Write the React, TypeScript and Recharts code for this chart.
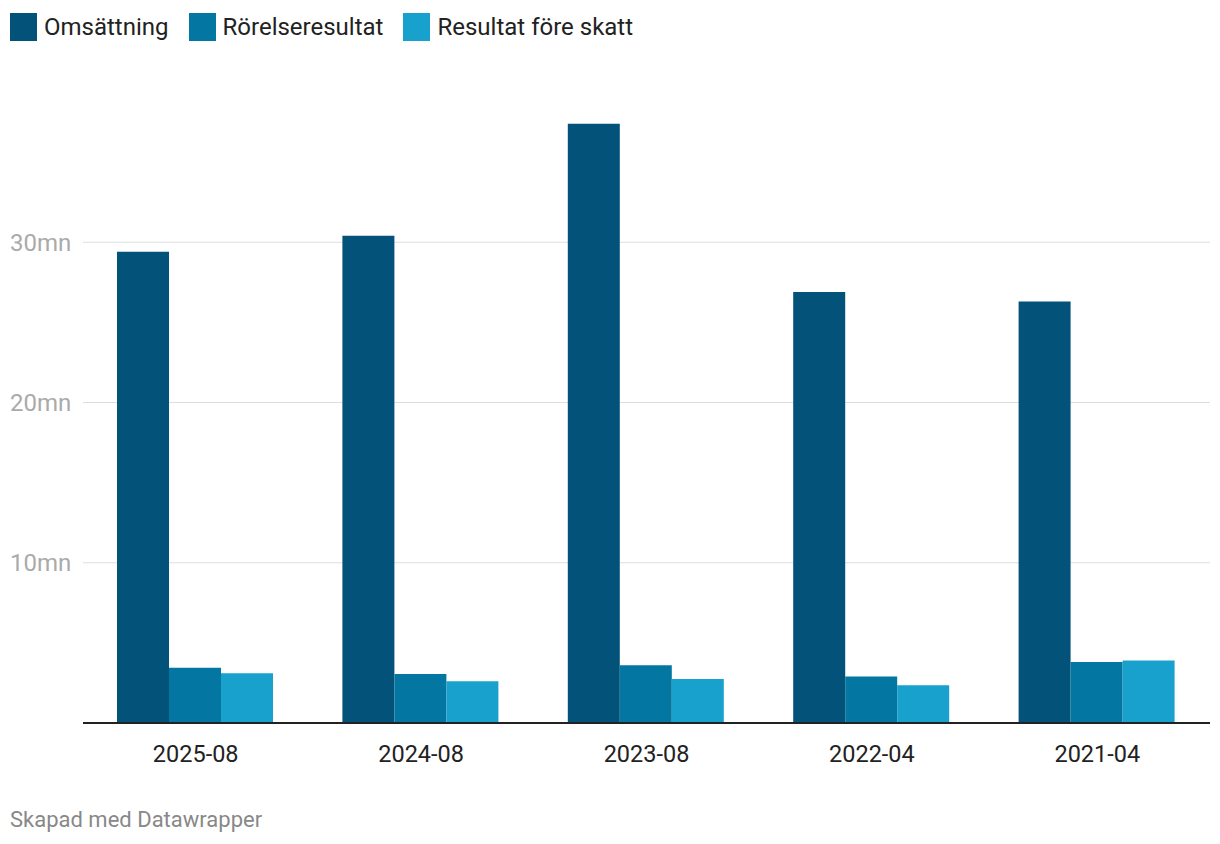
import React from 'react';
import { BarChart, Bar, XAxis, YAxis, CartesianGrid } from 'recharts';

const periods = ['2025-08', '2024-08', '2023-08', '2022-04', '2021-04'];
const omsattning = [29.4, 30.4, 37.4, 26.9, 26.3];
const rorelseresultat = [3.45, 3.05, 3.6, 2.9, 3.8];
const resultatForeSkatt = [3.1, 2.6, 2.75, 2.35, 3.9];
const yTicks = [0, 10, 20, 30];
const gridValues = [10, 20, 30];

const seriesNames = ['Omsättning', 'Rörelseresultat', 'Resultat före skatt'];
const seriesColors = ['#03527a', '#0377a1', '#19a1ce'];

const data = periods.map((p, i) => ({
  period: p,
  oms: omsattning[i],
  ror: rorelseresultat[i],
  res: resultatForeSkatt[i],
}));

const font = 'Roboto, "Noto Sans", sans-serif';

const YTick = (props: any) => {
  const { y, payload } = props;
  if (payload.value === 0) return null;
  return (
    <text x={10} y={y} dy="0.35em" textAnchor="start" fill="#aaaaaa" fontSize={24} fontFamily={font}>
      {payload.value}mn
    </text>
  );
};

const XTick = (props: any) => {
  const { x, y, payload } = props;
  return (
    <text x={x} y={y + 14} dy="0.71em" textAnchor="middle" fill="#222222" fontSize={23.5} fontFamily={font}>
      {payload.value}
    </text>
  );
};

export default function App() {
  return (
    <div style={{ position: 'absolute', left: 0, top: 0, width: 1220, height: 844, background: '#fff', fontFamily: font }}>
      <div style={{ position: 'absolute', left: 10, top: 13, display: 'flex', alignItems: 'center' }}>
        {seriesNames.map((name, i) => (
          <div key={name} style={{ display: 'flex', alignItems: 'center', marginRight: 20 }}>
            <div style={{ width: 27, height: 28, background: seriesColors[i], marginRight: 7 }} />
            <span style={{ fontSize: 24, color: '#222' }}>{name}</span>
          </div>
        ))}
      </div>
      <div style={{ position: 'absolute', left: 0, top: 0 }}>
        <BarChart
          width={1220}
          height={780}
          data={data}
          margin={{ top: 82, right: 10, bottom: 1, left: 0 }}
          barGap={0}
          barCategoryGap={34}
        >
          <CartesianGrid vertical={false} stroke="#dedede" horizontalValues={gridValues} />
          <XAxis
            dataKey="period"
            axisLine={{ stroke: '#222', strokeWidth: 2 }}
            tickLine={false}
            tick={<XTick />}
            height={56}
          />
          <YAxis
            domain={[0, 40]}
            ticks={yTicks}
            width={83}
            axisLine={false}
            tickLine={false}
            tick={<YTick />}
          />
          <Bar dataKey="oms" fill={seriesColors[0]} isAnimationActive={false} />
          <Bar dataKey="ror" fill={seriesColors[1]} isAnimationActive={false} />
          <Bar dataKey="res" fill={seriesColors[2]} isAnimationActive={false} />
        </BarChart>
      </div>
      <div style={{ position: 'absolute', left: 10, top: 807, fontSize: 22, color: '#888' }}>
        Skapad med Datawrapper
      </div>
    </div>
  );
}
